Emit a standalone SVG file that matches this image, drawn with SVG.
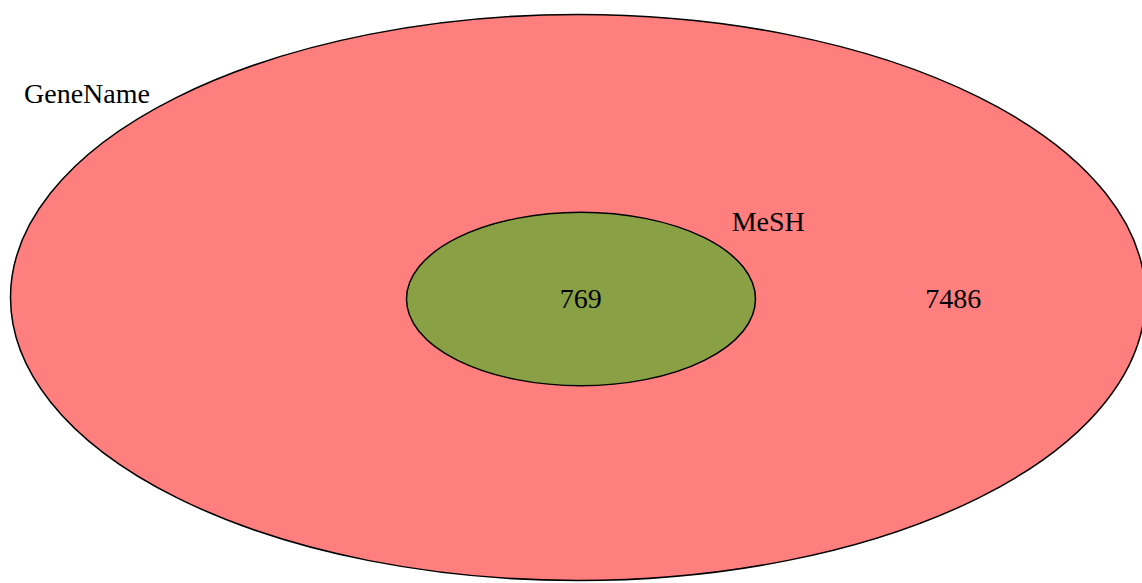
<svg xmlns="http://www.w3.org/2000/svg" width="1142" height="583" viewBox="0 0 1142 583">
<style>
.set{stroke:#000;stroke-width:1.5}
.lbl{font-family:"Liberation Serif","Times New Roman",serif;font-size:28px;fill:#000}
</style>
<rect width="1142" height="583" fill="#fff"/>
<g id="GeneName">
<ellipse class="set" cx="578" cy="297.5" rx="567.5" ry="283" fill="#FF7F7F"/>
<text class="lbl" x="24" y="102.7">GeneName</text>
<text class="lbl" x="953.3" y="308.3" text-anchor="middle">7486</text>
</g>
<g id="MeSH">
<ellipse class="set" cx="581" cy="299" rx="174.5" ry="86.7" fill="#8AA044"/>
<text class="lbl" x="731.7" y="230.7">MeSH</text>
<text class="lbl" x="580.8" y="308.3" text-anchor="middle">769</text>
</g>
<g id="connectors"/>
</svg>
